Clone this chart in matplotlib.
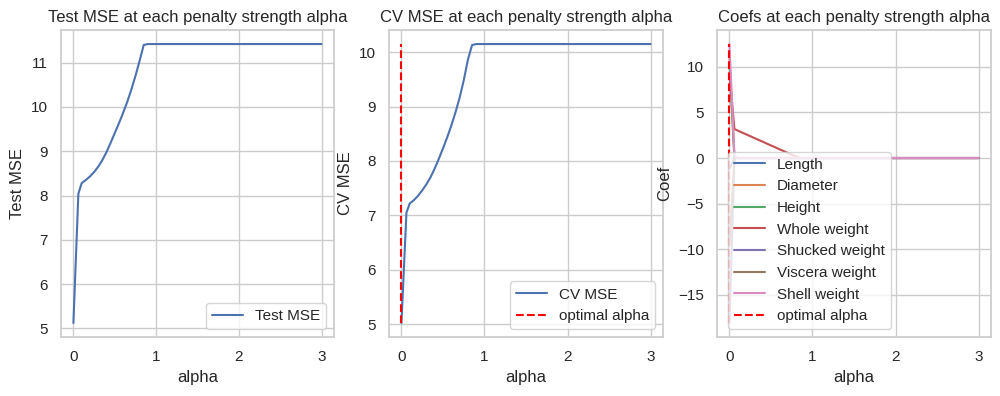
import matplotlib
matplotlib.use("Agg")
import matplotlib.pyplot as plt
import seaborn as sns

sns.set_theme(style="whitegrid")
plt.rcParams["font.family"] = ["Liberation Sans", "DejaVu Sans"]

alphas = [0.0, 0.06, 0.1, 0.15, 0.2, 0.25, 0.3, 0.35, 0.4, 0.45, 0.5,
          0.55, 0.6, 0.65, 0.7, 0.75, 0.8, 0.85, 0.9, 3.0]

test_mse = [5.12, 8.04, 8.28, 8.35, 8.43, 8.53, 8.65, 8.80, 8.98, 9.19, 9.41,
            9.63, 9.86, 10.11, 10.39, 10.70, 11.04, 11.40, 11.42, 11.42]

cv_mse = [5.02, 7.05, 7.22, 7.28, 7.36, 7.46, 7.57, 7.70, 7.86, 8.04, 8.23,
          8.43, 8.65, 8.89, 9.16, 9.48, 9.86, 10.13, 10.15, 10.15]

feature_names = ["Length", "Diameter", "Height", "Whole weight",
                 "Shucked weight", "Viscera weight", "Shell weight"]

coef_length = [-1.2, 0.0, 0, 0, 0, 0, 0, 0, 0, 0, 0, 0, 0, 0, 0, 0, 0, 0, 0, 0]
coef_diameter = [11.0, 0.0, 0, 0, 0, 0, 0, 0, 0, 0, 0, 0, 0, 0, 0, 0, 0, 0, 0, 0]
coef_height = [10.3, 0.0, 0, 0, 0, 0, 0, 0, 0, 0, 0, 0, 0, 0, 0, 0, 0, 0, 0, 0]
coef_whole = [9.2, 3.17, 3.01, 2.80, 2.60, 2.40, 2.19, 1.99, 1.79, 1.58, 1.38,
              1.18, 0.97, 0.77, 0.57, 0.36, 0.16, 0.0, 0.0, 0.0]
coef_shucked = [-18.1, 0.0, 0, 0, 0, 0, 0, 0, 0, 0, 0, 0, 0, 0, 0, 0, 0, 0, 0, 0]
coef_viscera = [-9.6, 0.0, 0, 0, 0, 0, 0, 0, 0, 0, 0, 0, 0, 0, 0, 0, 0, 0, 0, 0]
coef_shell = [12.5, 0.3, 0, 0, 0, 0, 0, 0, 0, 0, 0, 0, 0, 0, 0, 0, 0, 0, 0, 0]

optimal_alpha = 0.0

coefs = [coef_length, coef_diameter, coef_height, coef_whole,
         coef_shucked, coef_viscera, coef_shell]

fig = plt.figure(figsize=(10, 3.96), dpi=100)
bottom, height = 0.149, 0.775
ax1 = fig.add_axes([0.061, bottom, 0.273, height])
ax2 = fig.add_axes([0.389, bottom, 0.274, height])
ax3 = fig.add_axes([0.717, bottom, 0.274, height])

ax1.plot(alphas, test_mse, label="Test MSE")
ax1.set_title("Test MSE at each penalty strength alpha")
ax1.set_xlabel("alpha")
ax1.set_ylabel("Test MSE")
ax1.legend(loc="lower right")

ax2.plot(alphas, cv_mse, label="CV MSE")
ax2.vlines(optimal_alpha, min(cv_mse), max(cv_mse), colors="red",
           linestyles="--", label="optimal alpha")
ax2.set_title("CV MSE at each penalty strength alpha")
ax2.set_xlabel("alpha")
ax2.set_ylabel("CV MSE")
ax2.legend(loc="lower right")

for name, c in zip(feature_names, coefs):
    ax3.plot(alphas, c, label=name)
all_coefs = [v for c in coefs for v in c]
ax3.vlines(optimal_alpha, min(all_coefs), max(all_coefs), colors="red",
           linestyles="--", label="optimal alpha")
ax3.set_title("Coefs at each penalty strength alpha")
ax3.set_xlabel("alpha")
ax3.set_ylabel("Coef")
ax3.legend(loc="lower left", bbox_to_anchor=(0.012, 0.0))

fig.savefig("out.png", dpi=100)
